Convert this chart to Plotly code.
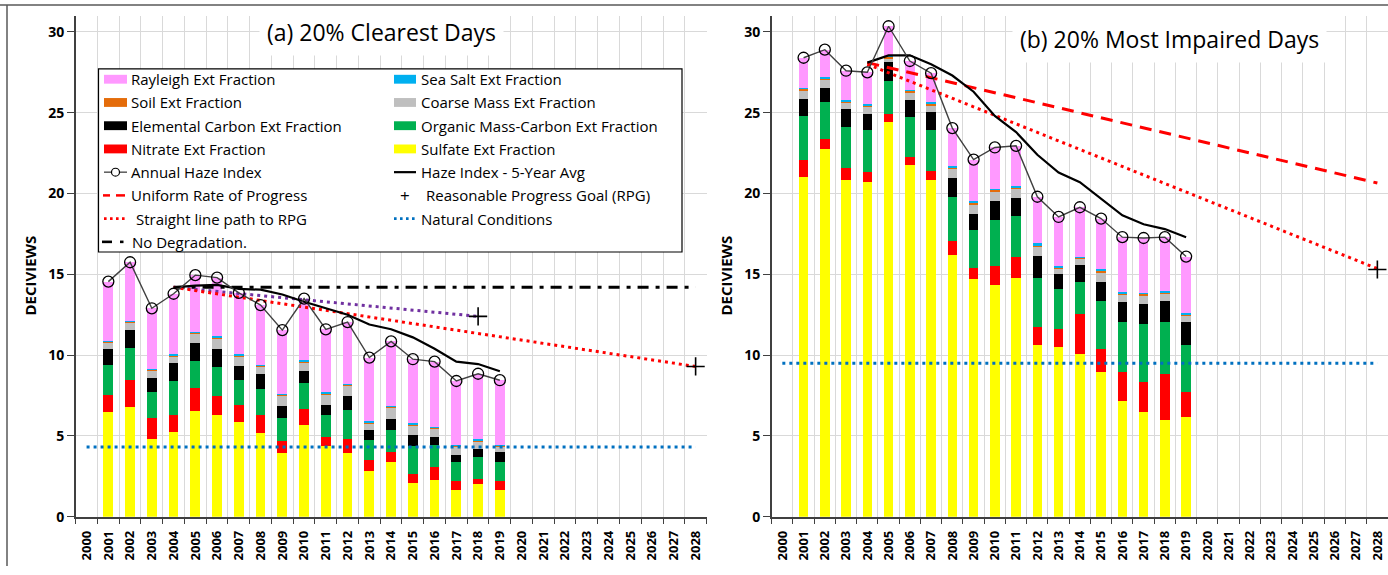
import plotly.graph_objects as go

W, H = 1388, 575

def px(x):
    return x / W

def py(y):
    return 1 - y / H

years = list(range(2001, 2020))
tick_years = list(range(2000, 2029))

# ---------------- (a) 20% Clearest Days ----------------
clr_sulfate = [6.47, 6.80, 4.80, 5.27, 6.53, 6.29, 5.86, 5.20, 3.94, 5.67, 4.39, 3.94, 2.86, 3.40, 2.08, 2.30, 1.67, 2.00, 1.67]
clr_nitrate = [1.08, 1.67, 1.32, 1.02, 1.43, 1.16, 1.08, 1.09, 0.75, 1.02, 0.57, 0.86, 0.65, 0.61, 0.57, 0.80, 0.57, 0.34, 0.57]
clr_omc = [1.84, 2.00, 1.57, 2.08, 1.67, 1.84, 1.53, 1.61, 1.43, 1.61, 1.33, 1.83, 1.25, 1.39, 1.73, 1.34, 1.12, 1.33, 1.18]
clr_ec = [0.96, 1.10, 0.88, 1.12, 1.13, 1.08, 0.88, 0.92, 0.76, 0.74, 0.65, 0.82, 0.59, 0.67, 0.65, 0.51, 0.45, 0.51, 0.61]
clr_coarse = [0.45, 0.49, 0.47, 0.47, 0.57, 0.65, 0.61, 0.47, 0.62, 0.55, 0.66, 0.71, 0.43, 0.69, 0.61, 0.55, 0.57, 0.50, 0.35]
clr_soil = [0.06, 0.06, 0.06, 0.06, 0.06, 0.06, 0.06, 0.06, 0.06, 0.06, 0.06, 0.06, 0.06, 0.06, 0.06, 0.06, 0.06, 0.06, 0.06]
clr_seasalt = [0.02, 0.02, 0.02, 0.08, 0.02, 0.08, 0.08, 0.06, 0.02, 0.08, 0.08, 0.02, 0.08, 0.02, 0.08, 0.02, 0.02, 0.08, 0.02]
clr_rayleigh = [3.67, 3.61, 3.78, 3.70, 3.54, 3.64, 3.75, 3.69, 3.97, 3.77, 3.86, 3.81, 3.93, 4.01, 3.97, 4.02, 3.94, 4.03, 3.99]
clr_annual = [14.55, 15.75, 12.90, 13.80, 14.95, 14.80, 13.85, 13.10, 11.55, 13.50, 11.60, 12.05, 9.85, 10.85, 9.75, 9.60, 8.40, 8.85, 8.45]
avg_years = list(range(2004, 2020))
clr_5yr = [14.2, 14.3, 14.35, 14.1, 14.05, 13.75, 13.3, 12.9, 12.5, 11.9, 11.6, 11.1, 10.4, 9.6, 9.45, 9.0]
clr_path_x = [2004, 2028]
clr_path_y = [14.2, 9.3]
clr_prev_x = [2004, 2018]
clr_prev_y = [14.2, 12.4]
clr_nodeg_x = [2004, 2028]
clr_nodeg_y = [14.2, 14.2]
clr_nat_x = [2000, 2028]
clr_nat_y = [4.32, 4.32]
clr_rpg_x = [2018, 2028]
clr_rpg_y = [12.4, 9.3]

# ---------------- (b) 20% Most Impaired Days ----------------
imp_sulfate = [21.02, 22.76, 20.83, 20.73, 24.43, 21.79, 20.83, 16.20, 14.72, 14.37, 14.78, 10.65, 10.51, 10.10, 8.94, 7.15, 6.48, 5.98, 6.20]
imp_nitrate = [1.07, 0.61, 0.76, 0.61, 0.51, 0.47, 0.59, 0.87, 0.67, 1.12, 1.28, 1.12, 1.12, 2.44, 1.47, 1.83, 1.85, 2.84, 1.52]
imp_omc = [2.71, 2.32, 2.54, 2.58, 2.03, 2.46, 2.50, 2.69, 2.33, 2.88, 2.58, 3.01, 2.44, 1.99, 2.94, 3.09, 3.60, 3.21, 2.93]
imp_ec = [1.05, 0.85, 1.07, 1.02, 1.16, 1.07, 1.12, 1.22, 1.02, 1.18, 1.08, 1.36, 0.97, 1.02, 1.18, 1.22, 1.22, 1.32, 1.38]
imp_coarse = [0.57, 0.53, 0.45, 0.41, 0.22, 0.43, 0.41, 0.54, 0.61, 0.61, 0.61, 0.57, 0.31, 0.38, 0.61, 0.47, 0.57, 0.47, 0.41]
imp_soil = [0.08, 0.06, 0.08, 0.14, 0.12, 0.14, 0.12, 0.13, 0.10, 0.10, 0.08, 0.10, 0.10, 0.13, 0.10, 0.10, 0.10, 0.08, 0.10]
imp_seasalt = [0.06, 0.07, 0.07, 0.06, 0.05, 0.06, 0.08, 0.08, 0.06, 0.04, 0.04, 0.10, 0.08, 0.04, 0.09, 0.06, 0.04, 0.06, 0.04]
imp_rayleigh = [1.84, 1.70, 1.80, 1.95, 1.83, 1.78, 1.80, 2.32, 2.59, 2.55, 2.50, 2.89, 3.02, 3.05, 3.12, 3.38, 3.39, 3.34, 3.52]
imp_annual = [28.40, 28.90, 27.60, 27.50, 30.35, 28.20, 27.45, 24.05, 22.10, 22.85, 22.95, 19.80, 18.55, 19.15, 18.45, 17.30, 17.25, 17.30, 16.10]
imp_5yr = [28.1, 28.55, 28.55, 28.0, 27.3, 26.3, 24.8, 23.8, 22.4, 21.3, 20.7, 19.65, 18.65, 18.1, 17.8, 17.3]
imp_urp_x = [2004, 2028]
imp_urp_y = [28.1, 20.65]
imp_path_x = [2004, 2028]
imp_path_y = [28.0, 15.35]
imp_nat_x = [2000, 2028]
imp_nat_y = [9.5, 9.5]
imp_rpg_x = [2028]
imp_rpg_y = [15.3]

species = [
    ("Sulfate Ext Fraction", "#FFFF00"),
    ("Nitrate Ext Fraction", "#FF0000"),
    ("Organic Mass-Carbon Ext Fraction", "#00B050"),
    ("Elemental Carbon Ext Fraction", "#000000"),
    ("Coarse Mass Ext Fraction", "#BFBFBF"),
    ("Soil Ext Fraction", "#E46C0A"),
    ("Sea Salt Ext Fraction", "#00B0F0"),
    ("Rayleigh Ext Fraction", "#FF99FF"),
]
clr_stack = [clr_sulfate, clr_nitrate, clr_omc, clr_ec, clr_coarse, clr_soil, clr_seasalt, clr_rayleigh]
imp_stack = [imp_sulfate, imp_nitrate, imp_omc, imp_ec, imp_coarse, imp_soil, imp_seasalt, imp_rayleigh]

FONT = "Open Sans"
DOT = "3px,4px"

fig = go.Figure()

for (name, col), vals in zip(species, clr_stack):
    fig.add_trace(go.Bar(x=years, y=vals, name=name, marker=dict(color=col, line=dict(width=0)),
                         width=0.45, xaxis="x", yaxis="y", showlegend=False))
for (name, col), vals in zip(species, imp_stack):
    fig.add_trace(go.Bar(x=years, y=vals, name=name, marker=dict(color=col, line=dict(width=0)),
                         width=0.45, xaxis="x2", yaxis="y2", showlegend=False))

def line(x, y, ax, color, width, dash="solid", mode="lines", **kw):
    fig.add_trace(go.Scatter(x=x, y=y, mode=mode, line=dict(color=color, width=width, dash=dash),
                             xaxis=ax[0], yaxis=ax[1], showlegend=False, **kw))

# Left panel lines
A = ("x", "y")
line(clr_nat_x, clr_nat_y, A, "#0070C0", 3, DOT)
line(clr_nodeg_x, clr_nodeg_y, A, "#000000", 3, "11px,7px,4px,7px")
line(clr_prev_x, clr_prev_y, A, "#7030A0", 3, DOT)
line(clr_path_x, clr_path_y, A, "#FF0000", 3, DOT)
line(avg_years, clr_5yr, A, "#000000", 2.2)
line(years, clr_annual, A, "#404040", 1.4, mode="lines+markers",
     marker=dict(symbol="circle-open", size=11, color="#000000", line=dict(width=1.3, color="#000000")))
fig.add_trace(go.Scatter(x=clr_rpg_x, y=clr_rpg_y, mode="markers", xaxis="x", yaxis="y", showlegend=False,
                         cliponaxis=False,
                         marker=dict(symbol="cross-thin", size=13, line=dict(width=1.6, color="#000000"))))

# Right panel lines
B = ("x2", "y2")
line(imp_nat_x, imp_nat_y, B, "#0070C0", 3, DOT)
line(imp_urp_x, imp_urp_y, B, "#FF0000", 3, "12px,8px")
line(imp_path_x, imp_path_y, B, "#FF0000", 3, DOT)
line(avg_years, imp_5yr, B, "#000000", 2.2)
line(years, imp_annual, B, "#404040", 1.4, mode="lines+markers",
     marker=dict(symbol="circle-open", size=11, color="#000000", line=dict(width=1.3, color="#000000")))
fig.add_trace(go.Scatter(x=imp_rpg_x, y=imp_rpg_y, mode="markers", xaxis="x2", yaxis="y2", showlegend=False,
                         cliponaxis=False,
                         marker=dict(symbol="cross-thin", size=13, line=dict(width=1.6, color="#000000"))))

ydom = [py(525), py(16)]
grid = "#D9D9D9"
axcol = "#404040"

def xaxis(domain, rng, anchor):
    return dict(domain=domain, range=rng, anchor=anchor, tickmode="array", tickvals=tick_years,
                ticktext=[str(v) for v in tick_years], tickangle=-90, ticklabeloverflow="allow",
                tickfont=dict(family=FONT, size=13, color="#000000", weight="bold"),
                ticks="outside", ticklen=7, tickcolor="rgba(0,0,0,0)", showgrid=False, zeroline=False,
                showline=True, linecolor=axcol, linewidth=1.5,
                minor=dict(tickmode="linear", tick0=1999.5, dtick=1, ticks="outside", ticklen=5,
                           tickcolor=axcol, showgrid=True, gridcolor=grid, gridwidth=1.3))

def yaxis(anchor):
    return dict(domain=ydom, range=[0, 31], anchor=anchor, tickmode="array", tickvals=[0, 5, 10, 15, 20, 25, 30],
                tickfont=dict(family=FONT, size=14, color="#000000", weight="bold"),
                ticks="outside", ticklen=7, tickcolor=axcol, showgrid=True, gridcolor=grid, gridwidth=1.3,
                zeroline=False, showline=True, linecolor=axcol, linewidth=1.5)

shapes = []
annotations = []

# frame lines
shapes.append(dict(type="line", xref="paper", yref="paper", x0=0, x1=1, y0=py(5), y1=py(5),
                   line=dict(color="#595959", width=1.5)))
shapes.append(dict(type="line", xref="paper", yref="paper", x0=px(7), x1=px(7), y0=py(5), y1=0,
                   line=dict(color="#595959", width=1.5)))

# Legend box (left panel)
shapes.append(dict(type="rect", xref="paper", yref="paper", x0=px(98.5), x1=px(682), y0=py(70), y1=py(256),
                   fillcolor="white", line=dict(color="#000000", width=1.2), layer="above"))

row_y = [80.5 + 23.6 * i for i in range(8)]
c1s, c1e, c1t = 104, 127, 129
c2s, c2e, c2t = 394, 416, 419

def swatch(x0, x1, yc, col):
    shapes.append(dict(type="rect", xref="paper", yref="paper", x0=px(x0), x1=px(x1), y0=py(yc - 4.5),
                       y1=py(yc + 4.5), fillcolor=col, line=dict(width=0), layer="above"))

def seg(x0, x1, yc, col, w, dash="solid"):
    shapes.append(dict(type="line", xref="paper", yref="paper", x0=px(x0), x1=px(x1), y0=py(yc), y1=py(yc),
                       line=dict(color=col, width=w, dash=dash), layer="above"))

def label(x, yc, text, size=15, bold=False):
    annotations.append(dict(xref="paper", yref="paper", x=px(x), y=py(yc), text=text, showarrow=False,
                            xanchor="left", yanchor="middle",
                            font=dict(family=FONT, size=size, color="#000000",
                                      weight="bold" if bold else "normal")))

legend_rects = [
    (0, 1, "Rayleigh Ext Fraction", "#FF99FF"), (0, 2, "Sea Salt Ext Fraction", "#00B0F0"),
    (1, 1, "Soil Ext Fraction", "#E46C0A"), (1, 2, "Coarse Mass Ext Fraction", "#BFBFBF"),
    (2, 1, "Elemental Carbon Ext Fraction", "#000000"), (2, 2, "Organic Mass-Carbon Ext Fraction", "#00B050"),
    (3, 1, "Nitrate Ext Fraction", "#FF0000"), (3, 2, "Sulfate Ext Fraction", "#FFFF00"),
]
for r, c, txt, col in legend_rects:
    if c == 1:
        swatch(c1s, c1e, row_y[r], col)
        label(c1t, row_y[r], txt)
    else:
        swatch(c2s, c2e, row_y[r], col)
        label(c2t, row_y[r], txt)

# row 4
seg(c1s, c1e, row_y[4], "#404040", 1.3)
shapes.append(dict(type="circle", xref="paper", yref="paper", x0=px(111.5), x1=px(119.5),
                   y0=py(row_y[4] - 4), y1=py(row_y[4] + 4), line=dict(color="#000000", width=1.2),
                   fillcolor="white", layer="above"))
label(c1t, row_y[4], "Annual Haze Index")
seg(c2s, c2e, row_y[4], "#000000", 2.2)
label(c2t, row_y[4], "Haze Index - 5-Year Avg")
# row 5
seg(103, 110, row_y[5], "#FF0000", 2.5)
seg(116, 125, row_y[5], "#FF0000", 2.5)
label(c1t, row_y[5], "Uniform Rate of Progress")
annotations.append(dict(xref="paper", yref="paper", x=px(405), y=py(row_y[5]), text="+", showarrow=False,
                        xanchor="center", yanchor="middle", font=dict(family=FONT, size=17, color="#000000")))
label(424, row_y[5], "Reasonable Progress Goal (RPG)")
# row 6
seg(104, 126, row_y[6], "#FF0000", 2.6, "2.6px,3.4px")
label(134, row_y[6], "Straight line path to RPG")
seg(c2s, c2e, row_y[6], "#0070C0", 2.6, "2.6px,3.4px")
label(c2t, row_y[6], "Natural Conditions")
# row 7
seg(102, 112, row_y[7], "#000000", 2.6)
seg(120, 123.5, row_y[7], "#000000", 2.6)
label(130, row_y[7], "No Degradation.")

# Panel titles
annotations.append(dict(xref="paper", yref="paper", x=px(381), y=py(33), text="(a) 20% Clearest Days",
                        showarrow=False, xanchor="center", yanchor="middle", bgcolor="white", borderpad=7,
                        font=dict(family=FONT, size=23, color="#000000")))
annotations.append(dict(xref="paper", yref="paper", x=px(1169), y=py(40), text="(b) 20% Most Impaired Days",
                        showarrow=False, xanchor="center", yanchor="middle", bgcolor="white", borderpad=7,
                        font=dict(family=FONT, size=23, color="#000000")))
# Axis titles
for xc in (30, 726):
    annotations.append(dict(xref="paper", yref="paper", x=px(xc), y=py(280), text="DECIVIEWS", textangle=-90,
                            showarrow=False, xanchor="center", yanchor="middle",
                            font=dict(family=FONT, size=15, color="#000000", weight="bold")))

fig.update_layout(
    width=W, height=H, margin=dict(l=0, r=0, t=0, b=0),
    paper_bgcolor="white", plot_bgcolor="white", barmode="stack", bargap=0.55,
    showlegend=False,
    xaxis=xaxis([px(75.7), px(706.5)], [1999.5, 2028.5], "y"),
    yaxis=yaxis("x"),
    xaxis2=xaxis([px(771.7), 1.0], [1999.5, 2028.5], "y2"),
    yaxis2=yaxis("x2"),
    shapes=shapes, annotations=annotations,
)

fig.write_html("out.html", config={"displayModeBar": False},
               post_script="document.body.style.margin='0';document.body.style.overflow='hidden';")
